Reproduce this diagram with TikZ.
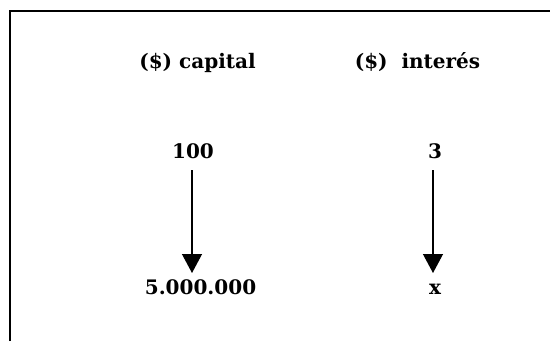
\documentclass[tikz,border=0pt]{standalone}
\usepackage{fontspec}
\setmainfont{DejaVu Serif}
\usetikzlibrary{arrows.meta}
\begin{document}
\begin{tikzpicture}[x=1pt,y=-1pt,
  lbl/.style={anchor=base,inner sep=0pt,font=\fontsize{20}{24}\selectfont\bfseries},
  flow/.style={line width=1.3pt,-{Triangle[width=20pt,length=19pt]}}]
  \useasboundingbox (0,0) rectangle (550,341);
  % frame: top and left edges only
  \draw[line width=1.3pt] (10,341) -- (10,11) -- (550,11);
  % column headings
  \node[lbl] (hcap) at (197.5,68) {(\$) capital};
  \node[lbl] (hint) at (417.5,68) {(\$)\ \ interés};
  % values
  \node[lbl] (c1) at (193,158) {100};
  \node[lbl] (i1) at (435,158) {3};
  \node[lbl] (c2) at (200.5,294) {5.000.000};
  \node[lbl] (i2) at (435,294) {x};
  % arrows
  \coordinate (a1s) at (192,170);
  \coordinate (a1e) at (192,273);
  \coordinate (a2s) at (433,170);
  \coordinate (a2e) at (433,273);
  \draw[flow] (a1s) -- (a1e);
  \draw[flow] (a2s) -- (a2e);
\end{tikzpicture}
\end{document}
